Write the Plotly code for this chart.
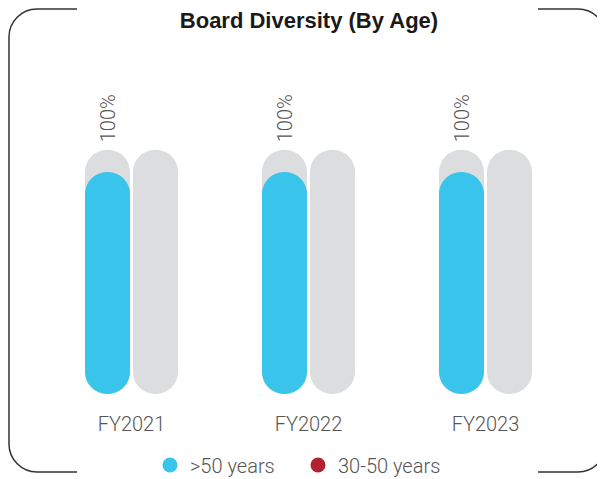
import plotly.graph_objects as go

# data
CATEGORIES = ["FY2021", "FY2022", "FY2023"]
OVER_50 = [100, 100, 100]
BETWEEN_30_50 = [0, 0, 0]
TRACK_MAX = 110  # grey pill behind each bar

BLUE = "#38c4eb"
RED = "#b3232f"
GREY = "#dcdddf"
TEXT = "#555555"
FONT = "Roboto, 'Liberation Sans', Arial, sans-serif"

W, H = 605, 479
PAGE = 8  # the page body margin shifts the figure by 8px
L, R, T, B = 35, 39, 32, 77
PW, PH = W - L - R, H - T - B

BAR_W = 0.254
OFFSETS = {"over": -0.2627, "mid": 0.0085}


def px_x(px):
    # screen pixel -> paper x
    return (px - PAGE - L) / PW


def px_y(py):
    # screen pixel -> paper y
    return (H - B - (py - PAGE)) / PH


fig = go.Figure()


def add_pill(values, offset, color):
    # floating bars (explicit base) get all four corners rounded -> pill
    fig.add_bar(
        x=CATEGORIES, y=values, base=[0] * len(values),
        width=BAR_W, offset=offset,
        marker=dict(color=color, cornerradius="50%", line_width=0),
        showlegend=False, hoverinfo="skip",
    )


track = [TRACK_MAX] * len(CATEGORIES)
add_pill(track, OFFSETS["over"], GREY)
add_pill(track, OFFSETS["mid"], GREY)
add_pill(OVER_50, OFFSETS["over"], BLUE)
add_pill(BETWEEN_30_50, OFFSETS["mid"], RED)

# legend entries (circles)
for name, color in ((">50 years", BLUE), ("30-50 years", RED)):
    fig.add_scatter(x=[None], y=[None], mode="markers", name=name,
                    marker=dict(color=color, size=15, symbol="circle"))

# value labels above the blue bars
for i, v in enumerate(OVER_50):
    fig.add_annotation(
        x=i + OFFSETS["over"] + BAR_W / 2, y=TRACK_MAX, text=f"{v}%", textangle=-90,
        showarrow=False, xanchor="center", yanchor="bottom", yshift=6,
        font=dict(family=FONT, size=20, color=TEXT, weight=300),
    )

# rounded frame with gaps for title and legend
r, k = 28, 0.5523
x0, x1, y0, y1 = 9, 606, 9, 472
gl, gr = 77, 538


def pt(cmd, *xy):
    s = cmd
    for j in range(0, len(xy), 2):
        s += f"{px_x(xy[j]):.5f},{px_y(xy[j + 1]):.5f} "
    return s.strip()


left = " ".join([
    pt("M", gl, y0), pt("L", x0 + r, y0),
    pt("C", x0 + r * (1 - k), y0, x0, y0 + r * (1 - k), x0, y0 + r),
    pt("L", x0, y1 - r),
    pt("C", x0, y1 - r * (1 - k), x0 + r * (1 - k), y1, x0 + r, y1),
    pt("L", gl, y1),
])
right = " ".join([
    pt("M", gr, y0), pt("L", x1 - r, y0),
    pt("C", x1 - r * (1 - k), y0, x1, y0 + r * (1 - k), x1, y0 + r),
    pt("L", x1, y1 - r),
    pt("C", x1, y1 - r * (1 - k), x1 - r * (1 - k), y1, x1 - r, y1),
    pt("L", gr, y1),
])
for path in (left, right):
    fig.add_shape(type="path", path=path, xref="paper", yref="paper",
                  line=dict(color="#333333", width=1.5))

fig.update_layout(
    width=W, height=H,
    margin=dict(l=L, r=R, t=T, b=B, autoexpand=False),
    paper_bgcolor="white", plot_bgcolor="white",
    barmode="overlay",
    title=dict(text="<b>Board Diversity (By Age)</b>", x=(309 - PAGE) / W, xanchor="center",
               y=1 - 12 / H, yanchor="middle", yref="container",
               font=dict(family="'Liberation Sans', Arial, sans-serif", size=22, color="#1a1a1a")),
    xaxis=dict(type="category", range=[-0.5, 2.5], showgrid=False, zeroline=False,
               showline=False, ticks="", tickfont=dict(family=FONT, size=20, color=TEXT, weight=300)),
    yaxis=dict(range=[-7.207, 159.46], visible=False, showgrid=False, zeroline=False),
    legend=dict(orientation="h", x=px_x(150), xanchor="left", y=px_y(465), yanchor="middle",
                font=dict(family=FONT, size=20, color=TEXT, weight=300),
                entrywidth=103, entrywidthmode="pixels", bgcolor="rgba(0,0,0,0)"),
)

fig.write_html("out.html")
